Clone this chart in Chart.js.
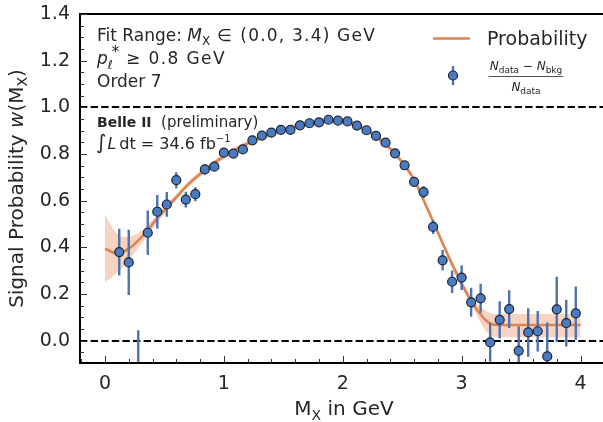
<!DOCTYPE html>
<html>
<head>
<meta charset="utf-8">
<script src="https://cdn.jsdelivr.net/npm/chart.js"></script>
<style>
  html, body { margin: 0; padding: 0; background: #fff; overflow: hidden; }
  #wrap { width: 610px; height: 422px; }
</style>
</head>
<body>
<div id="wrap"><canvas id="chart" width="610" height="422"></canvas></div>
<script>
// bin centres of the M_X histogram (GeV)
const binCenters = [0.12, 0.20, 0.28, 0.36, 0.44, 0.52, 0.60, 0.68, 0.76, 0.84, 0.92, 1.00, 1.08,
  1.16, 1.24, 1.32, 1.40, 1.48, 1.56, 1.64, 1.72, 1.80, 1.88, 1.96, 2.04, 2.12, 2.20, 2.28, 2.36,
  2.44, 2.52, 2.60, 2.68, 2.76, 2.84, 2.92, 3.00, 3.08, 3.16, 3.24, 3.32, 3.40, 3.48, 3.56, 3.64,
  3.72, 3.80, 3.88, 3.96];
// (N_data - N_bkg) / N_data per bin
const ratioValues = [0.380, 0.336, -0.210, 0.463, 0.553, 0.584, 0.688, 0.605, 0.628, 0.734, 0.746, 0.806, 0.802,
  0.820, 0.859, 0.879, 0.892, 0.904, 0.904, 0.923, 0.932, 0.936, 0.947, 0.943, 0.940, 0.922, 0.902, 0.878, 0.849,
  0.803, 0.752, 0.681, 0.637, 0.488, 0.345, 0.253, 0.271, 0.165, 0.182, -0.007, 0.090, 0.136, -0.043, 0.036, 0.041,
  -0.067, 0.135, 0.076, 0.118];
const ratioErrors = [0.100, 0.140, 0.255, 0.095, 0.072, 0.053, 0.034, 0.034, 0.030, 0.022, 0.018, 0.015, 0.014,
  0.013, 0.012, 0.011, 0.011, 0.010, 0.010, 0.010, 0.010, 0.010, 0.010, 0.010, 0.010, 0.011, 0.011, 0.012, 0.013,
  0.015, 0.017, 0.020, 0.025, 0.030, 0.044, 0.048, 0.053, 0.062, 0.062, 0.083, 0.080, 0.081, 0.104, 0.104, 0.087,
  0.145, 0.140, 0.100, 0.115];

// fitted probability (order 7) and its uncertainty band
const fitX = [0.0, 0.1, 0.2, 0.3, 0.4, 0.5, 0.6, 0.7, 0.8, 0.9, 1.0, 1.1, 1.2, 1.3, 1.4, 1.5, 1.6, 1.7, 1.8,
  1.9, 2.0, 2.1, 2.2, 2.3, 2.4, 2.5, 2.6, 2.7, 2.8, 2.9, 3.0, 3.1, 3.2, 3.25, 3.3, 4.0];
const fitY = [0.395, 0.375, 0.395, 0.440, 0.500, 0.560, 0.615, 0.670, 0.715, 0.755, 0.790, 0.820, 0.845, 0.868,
  0.887, 0.903, 0.917, 0.929, 0.938, 0.943, 0.940, 0.927, 0.903, 0.868, 0.823, 0.765, 0.690, 0.580, 0.465,
  0.350, 0.245, 0.155, 0.090, 0.072, 0.068, 0.068];
const fitLow = [0.250, 0.290, 0.345, 0.410, 0.480, 0.545, 0.603, 0.658, 0.703, 0.743, 0.778, 0.808, 0.833, 0.856,
  0.875, 0.891, 0.905, 0.917, 0.926, 0.931, 0.928, 0.915, 0.891, 0.856, 0.811, 0.753, 0.678, 0.568, 0.453,
  0.337, 0.230, 0.135, 0.045, 0.022, 0.015, 0.015];
const fitHigh = [0.540, 0.460, 0.445, 0.470, 0.520, 0.575, 0.627, 0.682, 0.727, 0.767, 0.802, 0.832, 0.857, 0.880,
  0.899, 0.915, 0.929, 0.941, 0.950, 0.955, 0.952, 0.939, 0.915, 0.880, 0.835, 0.777, 0.702, 0.592, 0.477,
  0.363, 0.260, 0.175, 0.130, 0.117, 0.115, 0.115];

const xTicks = [0, 1, 2, 3, 4];
const yTicks = [0.0, 0.2, 0.4, 0.6, 0.8, 1.0, 1.2, 1.4];
const refLines = [0.0, 1.0];

const FONT = "'DejaVu Sans', sans-serif";
const TEXT = '#262626';
const BLUE = '#4c72b0';
const MARKER = '#4a7bc0';
const ORANGE = '#dd8452';
const BAND = 'rgba(235, 140, 95, 0.38)';

const toXY = (xs, ys) => xs.map((x, i) => ({ x: x, y: ys[i] }));

// draw a list of text pieces one after another (for sub/superscripts)
function drawRuns(ctx, x, y, parts) {
  ctx.textBaseline = 'alphabetic';
  ctx.textAlign = 'left';
  parts.forEach(p => {
    ctx.font = p.f;
    ctx.letterSpacing = (p.ls || 0) + 'px';
    ctx.fillText(p.t, x + (p.dx || 0), y + (p.dy || 0));
    x += ctx.measureText(p.t).width + (p.dx || 0) + (p.adv || 0);
  });
  ctx.letterSpacing = '0px';
  return x;
}
function runsWidth(ctx, parts) {
  let w = 0;
  parts.forEach(p => {
    ctx.font = p.f;
    ctx.letterSpacing = (p.ls || 0) + 'px';
    w += ctx.measureText(p.t).width + (p.dx || 0) + (p.adv || 0);
  });
  ctx.letterSpacing = '0px';
  return w;
}

const decorations = {
  id: 'decorations',
  beforeDatasetsDraw(chart) {
    const { ctx, chartArea: a, scales: { y } } = chart;
    ctx.save();
    ctx.strokeStyle = '#000';
    ctx.lineWidth = 2;
    ctx.setLineDash([7.4, 3.2]);
    refLines.forEach(v => {
      const py = Math.round(y.getPixelForValue(v));
      ctx.beginPath();
      ctx.moveTo(a.left, py);
      ctx.lineTo(a.right, py);
      ctx.stroke();
    });
    ctx.restore();
  },
  beforeDatasetDraw(chart, args) {
    if (args.index !== 0) return;
    // error bars under the markers
    const { ctx, chartArea: a, scales: { x, y } } = chart;
    ctx.save();
    ctx.beginPath();
    ctx.rect(a.left, a.top, a.right - a.left, a.bottom - a.top);
    ctx.clip();
    ctx.strokeStyle = BLUE;
    ctx.lineWidth = 2.4;
    binCenters.forEach((c, i) => {
      const px = x.getPixelForValue(c);
      ctx.beginPath();
      ctx.moveTo(px, y.getPixelForValue(ratioValues[i] - ratioErrors[i]));
      ctx.lineTo(px, y.getPixelForValue(ratioValues[i] + ratioErrors[i]));
      ctx.stroke();
    });
    ctx.restore();
  },
  afterDatasetsDraw(chart) {
    const { ctx, chartArea: a, scales: { x, y } } = chart;
    ctx.save();

    // spines
    ctx.strokeStyle = '#000';
    ctx.lineWidth = 2;
    ctx.strokeRect(a.left, a.top, a.right - a.left, a.bottom - a.top);

    // inward ticks, major and minor
    ctx.lineWidth = 1;
    ctx.strokeStyle = '#333';
    const tick = (x0, y0, x1, y1) => { ctx.beginPath(); ctx.moveTo(x0, y0); ctx.lineTo(x1, y1); ctx.stroke(); };
    for (let k = -1; k <= 21; k++) {
      const v = k * 0.2;
      if (v < x.min || v > x.max) continue;
      const px = Math.round(x.getPixelForValue(v)) + 0.5;
      const len = (k % 5 === 0) ? 7 : 4;
      tick(px, a.bottom, px, a.bottom - len);
    }
    for (let k = -1; k <= 28; k++) {
      const v = k * 0.05;
      if (v < y.min || v > y.max + 1e-9) continue;
      const py = Math.round(y.getPixelForValue(v)) + 0.5;
      const len = (k % 4 === 0) ? 7 : 4;
      tick(a.left, py, a.left + len, py);
    }

    ctx.fillStyle = TEXT;
    const big = '17px ' + FONT;
    const bigIt = 'italic 17px ' + FONT;
    const sub = '12px ' + FONT;
    const subIt = 'italic 12px ' + FONT;

    // axis titles
    ctx.save();
    ctx.translate(23, (a.top + a.bottom) / 2);
    ctx.rotate(-Math.PI / 2);
    const yTitle = [
      { t: 'Signal Probability ', f: '20px ' + FONT },
      { t: 'w', f: 'italic 20px ' + FONT },
      { t: '(M', f: '20px ' + FONT },
      { t: 'X', f: '14px ' + FONT, dy: 4 },
      { t: ')', f: '20px ' + FONT }
    ];
    drawRuns(ctx, -runsWidth(ctx, yTitle) / 2, 0, yTitle);
    ctx.restore();

    const xTitle = [
      { t: 'M', f: '20px ' + FONT },
      { t: 'X', f: '14px ' + FONT, dy: 5 },
      { t: ' in GeV', f: '20px ' + FONT }
    ];
    drawRuns(ctx, 344 - runsWidth(ctx, xTitle) / 2, 415, xTitle);

    // fit info
    drawRuns(ctx, 97, 41, [
      { t: 'Fit Range: ', f: big },
      { t: 'M', f: bigIt },
      { t: 'X', f: sub, dy: 4 },
      { t: ' \u2208 ', f: big, ls: 1.5 },
      { t: '(0.0, 3.4) GeV', f: big, ls: 1.2 }
    ]);
    drawRuns(ctx, 97, 64, [
      { t: 'p', f: bigIt },
      { t: '\u2113', f: subIt, dy: 5 },
      { t: '*', f: '15px ' + FONT, dy: -7, dx: -1 },
      { t: ' \u2265 0.8 GeV', f: big, ls: 1.4 }
    ]);
    drawRuns(ctx, 97, 87, [{ t: 'Order 7', f: big }]);

    // experiment label
    drawRuns(ctx, 97, 127, [
      { t: 'Belle II', f: 'bold 14px ' + FONT },
      { t: '  (preliminary)', f: '15px ' + FONT }
    ]);
    drawRuns(ctx, 96, 149, [
      { t: '\u222B', f: '20px ' + FONT, adv: 1 },
      { t: 'L', f: 'italic 16px ' + FONT, adv: 3 },
      { t: 'dt = 34.6 fb', f: '16px ' + FONT },
      { t: '\u22121', f: '10px ' + FONT, dy: -7 }
    ]);

    // legend: fit line
    ctx.strokeStyle = ORANGE;
    ctx.lineWidth = 2.6;
    tick(433, 38.5, 470, 38.5);
    drawRuns(ctx, 487, 45, [{ t: 'Probability', f: '19px ' + FONT }]);

    // legend: data marker with error bar
    ctx.strokeStyle = BLUE;
    ctx.lineWidth = 2.4;
    tick(453, 66, 453, 85);
    ctx.beginPath();
    ctx.arc(453, 75.5, 4.5, 0, Math.PI * 2);
    ctx.fillStyle = MARKER;
    ctx.fill();
    ctx.strokeStyle = '#1b2434';
    ctx.lineWidth = 1.2;
    ctx.stroke();

    ctx.fillStyle = TEXT;
    const nF = 'italic 12px ' + FONT;
    const sF = '9px ' + FONT;
    const num = [
      { t: 'N', f: nF }, { t: 'data', f: sF, dy: 3 },
      { t: ' \u2212 ', f: '12px ' + FONT },
      { t: 'N', f: nF }, { t: 'bkg', f: sF, dy: 3 }
    ];
    const den = [{ t: 'N', f: nF }, { t: 'data', f: sF, dy: 3 }];
    const cx = 526;
    const nw = runsWidth(ctx, num);
    drawRuns(ctx, cx - nw / 2, 70, num);
    ctx.strokeStyle = TEXT;
    ctx.lineWidth = 0.8;
    tick(cx - nw / 2 - 1, 76.5, cx + nw / 2 + 1, 76.5);
    drawRuns(ctx, cx - runsWidth(ctx, den) / 2, 91, den);

    ctx.restore();
  }
};

new Chart(document.getElementById('chart'), {
  type: 'scatter',
  data: {
    datasets: [
      {
        label: 'data',
        data: toXY(binCenters, ratioValues),
        pointRadius: 4.5,
        pointBackgroundColor: MARKER,
        pointBorderColor: '#1b2434',
        pointBorderWidth: 1.2,
        showLine: false,
        order: 0
      },
      {
        label: 'Probability',
        data: toXY(fitX, fitY),
        showLine: true,
        borderColor: ORANGE,
        borderWidth: 2.6,
        pointRadius: 0,
        cubicInterpolationMode: 'monotone',
        fill: false,
        order: 1
      },
      {
        label: 'band low',
        data: toXY(fitX, fitLow),
        showLine: true,
        borderWidth: 0,
        borderColor: 'rgba(0,0,0,0)',
        pointRadius: 0,
        cubicInterpolationMode: 'monotone',
        fill: false,
        order: 3
      },
      {
        label: 'band high',
        data: toXY(fitX, fitHigh),
        showLine: true,
        borderWidth: 0,
        borderColor: 'rgba(0,0,0,0)',
        backgroundColor: BAND,
        pointRadius: 0,
        cubicInterpolationMode: 'monotone',
        fill: '-1',
        order: 2
      }
    ]
  },
  options: {
    responsive: false,
    animation: false,
    layout: { padding: { top: 14, right: 3, left: 0, bottom: 0 } },
    plugins: {
      legend: { display: false },
      tooltip: { enabled: false },
      filler: { propagate: false }
    },
    scales: {
      x: {
        type: 'linear',
        min: -0.21,
        max: 4.2,
        grid: { display: false, drawTicks: false },
        border: { display: false },
        afterBuildTicks: s => { s.ticks = xTicks.map(v => ({ value: v })); },
        afterFit: s => { s.height = 59; s.paddingLeft = 0; s.paddingRight = 0; },
        ticks: {
          padding: 10,
          color: TEXT,
          font: { family: FONT, size: 19 },
          callback: v => String(v)
        }
      },
      y: {
        type: 'linear',
        min: -0.095,
        max: 1.4,
        grid: { display: false, drawTicks: false },
        border: { display: false },
        afterBuildTicks: s => { s.ticks = yTicks.map(v => ({ value: v })); },
        afterFit: s => { s.width = 80; s.paddingTop = 0; s.paddingBottom = 0; },
        ticks: {
          padding: 10,
          color: TEXT,
          font: { family: FONT, size: 19 },
          callback: v => Number(v).toFixed(1)
        }
      }
    }
  },
  plugins: [decorations]
});
</script>
</body>
</html>
